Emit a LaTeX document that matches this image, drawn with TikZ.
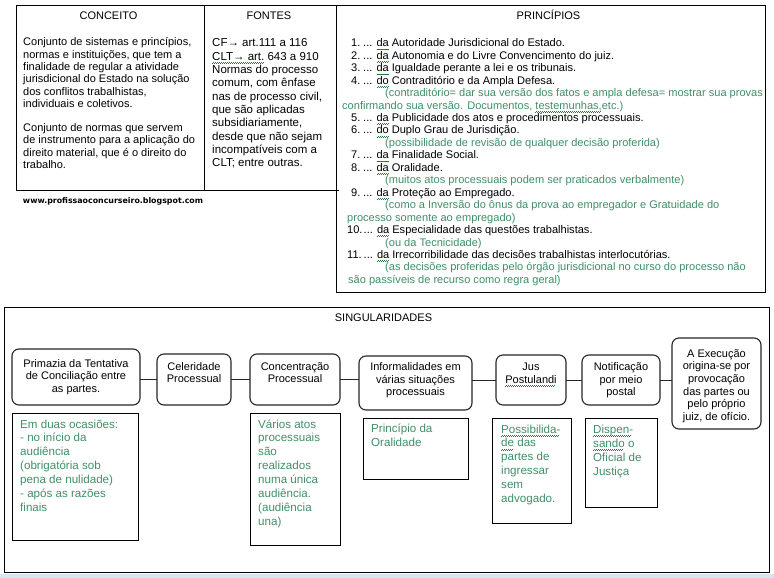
\documentclass[tikz,border=0pt]{standalone}
\usepackage{fontspec}
\setmainfont{Liberation Sans}
\newfontfamily\wmfont{DejaVu Sans}
\definecolor{grn}{RGB}{64,144,104}
\definecolor{strip}{RGB}{218,227,240}
\definecolor{spellred}{RGB}{220,30,30}
\definecolor{spellgrn}{RGB}{40,120,60}
\newsavebox\wvbox
\newcommand\wv[2]{\sbox\wvbox{#2}\rlap{\textcolor{#1}{\leaders\hbox{\rule[-3.2pt]{1pt}{0.6pt}\rule[-2.5pt]{1pt}{0.6pt}}\hskip\wd\wvbox}}\usebox\wvbox}
\newcommand\rw[1]{\wv{spellred}{#1}}
\newcommand\gw[1]{\wv{spellgrn}{#1}}
\newcommand\fA{\fontsize{11}{13}\selectfont}
\newcommand\fF{\fontsize{11.5}{13}\selectfont}
\newcommand\fP{\fontsize{11.05}{13}\selectfont}
\newcommand\fB{\fontsize{11}{12.6}\selectfont}
\newcommand\fG{\fontsize{11.6}{14}\selectfont}
\newcommand\txtlines[6]{\foreach \l [count=\i from 0] in {#6}{\node[#5] (#1\i) at (#2,{#3+\i*#4}) {\l};}}
\begin{document}
\begin{tikzpicture}[x=1pt,y=-1pt,
  tbox/.style={draw, line width=0.9pt, anchor=north west, inner sep=0pt, outer sep=0pt},
  rbox/.style={draw=black!85, line width=1.1pt, rounded corners=7pt, anchor=north west, inner sep=0pt, outer sep=0pt},
  rtext/.style={align=center, inner sep=0pt, anchor=north, font=\fB},
  conn/.style={draw=black!85, line width=1pt},
  tl/.style={inner sep=0pt, anchor=base west},
  ttl/.style={inner sep=0pt, anchor=base, font=\fA},
  ctext/.style={tl, font=\fA},
  ftext/.style={tl, font=\fF},
  ptext/.style={tl, font=\fP},
  pgrn/.style={tl, font=\fP, text=grn},
  gtext/.style={tl, font=\fG, text=grn},
]
\useasboundingbox (0,0) rectangle (774,578);
\fill[white] (0,0) rectangle (774,578);
\fill[strip] (0,574) rectangle (774,578);

% ---------- top table ----------
\node[tbox, minimum width=188pt, minimum height=185pt] (conc) at (16,5) {};
\node[tbox, minimum width=132pt, minimum height=185pt] (font) at (204,5) {};
\node[tbox, minimum width=429pt, minimum height=287pt] (princ) at (336,5) {};
\draw[line width=0.9pt] (font.south east) -- ++(2.5,0);

\node[ttl] (tconc) at (108.5,19.5) {CONCEITO};
\node[ttl] (tfont) at (269,19.5) {FONTES};
\node[ttl] (tprinc) at (548.5,19.5) {PRINCÍPIOS};

\txtlines{ca}{23}{46}{12.3}{ctext}{{Conjunto de sistemas e princípios,},{normas e instituições, que tem a},{finalidade de regular a atividade},{jurisdicional do Estado na solução},{dos conflitos trabalhistas,},{individuais e coletivos.}}
\txtlines{cb}{23}{131.5}{12.3}{ctext}{{Conjunto de normas que servem},{de instrumento para a aplicação do},{direito material, que é o direito do},{trabalho.}}

\txtlines{fo}{212}{46.8}{13.33}{ftext}{{CF→ art.111 a 116},{\gw{CLT→ art.} 643 a 910},{Normas do processo},{comum, com ênfase},{nas de processo civil,},{que são aplicadas},{subsidiariamente,},{desde que não sejam},{incompatíveis com a},{CLT; entre outras.}}

\node[inner sep=0pt] (wm) at (113,201) {\resizebox{180pt}{!}{\wmfont\bfseries www.profissaoconcurseiro.blogspot.com}};

\foreach \x/\k/\s/\t in {
 351/0/ptext/{\makebox[12pt][l]{1.}... \gw{da} Autoridade Jurisdicional do Estado.},
 351/1/ptext/{\makebox[12pt][l]{2.}... \gw{da} Autonomia e do Livre Convencimento do juiz.},
 351/2/ptext/{\makebox[12pt][l]{3.}... \gw{da} Igualdade perante a lei e os tribunais.},
 351/3/ptext/{\makebox[12pt][l]{4.}... \gw{do} Contraditório e da Ampla Defesa.},
 385/4/pgrn/{(contraditório= dar sua versão dos fatos e ampla defesa= mostrar sua provas},
 342/5/pgrn/{confirmando sua versão. Documentos, \gw{testemunhas,}etc.)},
 351/6/ptext/{\makebox[12pt][l]{5.}... \gw{da} Publicidade dos atos e procedimentos processuais.},
 351/7/ptext/{\makebox[12pt][l]{6.}... \gw{do} Duplo Grau de Jurisdição.},
 385/8/pgrn/{(possibilidade de revisão de qualquer decisão proferida)},
 351/9/ptext/{\makebox[12pt][l]{7.}... \gw{da} Finalidade Social.},
 351/10/ptext/{\makebox[12pt][l]{8.}... \gw{da} Oralidade.},
 385/11/pgrn/{(muitos atos processuais podem ser praticados verbalmente)},
 351/12/ptext/{\makebox[12pt][l]{9.}... \gw{da} Proteção ao Empregado.},
 385/13/pgrn/{(como a Inversão do ônus da prova ao empregador e Gratuidade do},
 347/14/pgrn/{processo somente ao empregado)},
 347/15/ptext/{\makebox[16.5pt][l]{10.}... \gw{da} Especialidade das questões trabalhistas.},
 385/16/pgrn/{(ou da Tecnicidade)},
 347/17/ptext/{\makebox[16.5pt][l]{11.}... \gw{da} Irrecorribilidade das decisões trabalhistas interlocutórias.},
 385/18/pgrn/{(as decisões proferidas pelo órgão jurisdicional no curso do processo não},
 348/19/pgrn/{são passíveis de recurso como regra geral)}}
 {\node[\s] (pr\k) at (\x,{46.8+\k*12.45}) {\t};}

% ---------- singularidades ----------
\node[tbox, minimum width=765pt, minimum height=265pt] (sing) at (4,307) {};
\node[ttl] (tsing) at (383.5,321) {SINGULARIDADES};

\node[rbox, minimum width=128pt, minimum height=56pt] (prim) at (12,349) {};
\node[rbox, minimum width=74pt, minimum height=51pt] (cel) at (157,354) {};
\node[rbox, minimum width=90pt, minimum height=51pt] (conc2) at (250,354) {};
\node[rbox, minimum width=113pt, minimum height=54pt] (inf) at (359,356) {};
\node[rbox, minimum width=70pt, minimum height=50pt] (jus) at (496,355) {};
\node[rbox, minimum width=78pt, minimum height=50pt] (notif) at (582,355) {};
\node[rbox, minimum width=89pt, minimum height=91pt] (exec) at (672,338) {};

\node[rtext] (primt) at ([yshift=-9.2pt]prim.north) {\strut Primazia da Tentativa\\de Conciliação entre\\as partes.};
\node[rtext] (celt) at ([yshift=-7.2pt]cel.north) {\strut Celeridade\\Processual};
\node[rtext] (conc2t) at ([yshift=-7.2pt]conc2.north) {\strut Concentração\\Processual};
\node[rtext] (inft) at ([yshift=-5.7pt]inf.north) {\strut Informalidades em\\várias situações\\processuais};
\node[rtext] (just) at ([yshift=-6.7pt]jus.north) {\strut Jus\\\rw{Postulandi}};
\node[rtext] (notift) at ([yshift=-6.7pt]notif.north) {\strut Notificação\\por meio\\postal};
\node[rtext] (exect) at ([yshift=-10.2pt]exec.north) {\strut A Execução\\origina-se por\\provocação\\das partes ou\\pelo próprio\\juiz, de ofício.};

\draw[conn] (prim.east |- cel.west) -- (cel.west);
\draw[conn] (cel.east) -- (conc2.west);
\draw[conn] (conc2.east) -- (inf.west |- conc2.east);
\draw[conn] (inf.east |- jus.west) -- (jus.west);
\draw[conn] (jus.east) -- (notif.west);
\draw[conn] (notif.east) -- (exec.west |- notif.east);

\node[tbox, minimum width=126pt, minimum height=127pt] (g1) at (12,413) {};
\node[tbox, minimum width=90pt, minimum height=132pt] (g2) at (250,413) {};
\node[tbox, minimum width=105pt, minimum height=61pt] (g3) at (363,418) {};
\node[tbox, minimum width=79pt, minimum height=105pt] (g4) at (492,418) {};
\node[tbox, minimum width=72pt, minimum height=89pt] (g5) at (585,418) {};

\txtlines{ga}{20}{428}{13.9}{gtext}{{Em duas ocasiões:},{- no início da},{audiência},{(obrigatória sob},{pena de nulidade)},{- após as razões},{finais}}
\txtlines{gb}{258}{428}{13.9}{gtext}{{Vários atos},{processuais},{são},{realizados},{numa única},{audiência.},{(audiência},{una)}}
\txtlines{gc}{371}{432}{14.5}{gtext}{{Princípio da},{Oralidade}}
\txtlines{gd}{501}{433}{13.9}{gtext}{{\rw{Possibilida-}},{\rw{de} das},{partes de},{ingressar},{sem},{advogado.}}
\txtlines{ge}{593}{433}{14}{gtext}{{\rw{Dispen-}},{\rw{sando} o},{Oficial de},{Justiça}}
\end{tikzpicture}
\end{document}
